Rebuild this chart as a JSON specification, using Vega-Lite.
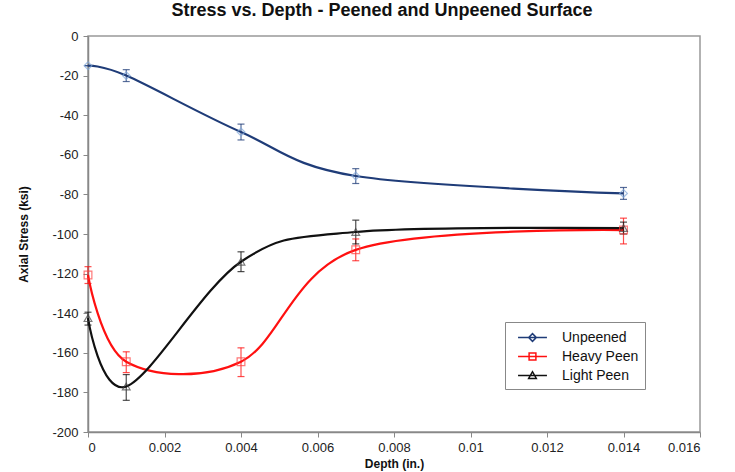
{
  "$schema": "https://vega.github.io/schema/vega-lite/v6.json",
  "autosize": {"type": "none"},
  "width": 612,
  "height": 396,
  "padding": {"left": 88, "top": 36, "right": 35, "bottom": 40},
  "background": "white",
  "title": {
    "text": "Stress vs. Depth - Peened and Unpeened Surface",
    "fontSize": 18,
    "font": "Liberation Sans",
    "fontWeight": "bold",
    "color": "#111",
    "anchor": "middle",
    "dx": -12,
    "offset": 10
  },
  "config": {
    "view": {"stroke": "#999", "strokeWidth": 1.5},
    "axis": {
      "grid": false,
      "labelOverlap": false,
      "domainColor": "#888",
      "domainWidth": 1.5,
      "tickColor": "#888",
      "tickSize": 5,
      "labelColor": "#222",
      "labelFont": "Liberation Sans",
      "labelFontSize": 13,
      "titleFont": "Liberation Sans",
      "titleFontSize": 12,
      "titleFontWeight": "bold",
      "titleColor": "#111"
    },
    "legend": {
      "labelFont": "Liberation Sans",
      "labelFontSize": 14,
      "labelColor": "#111"
    }
  },
  "data": {
    "values": [
      {"series": "Unpeened", "depth": 0, "stress": -15, "lo": -15, "hi": -15},
      {"series": "Unpeened", "depth": 0.001, "stress": -20, "lo": -23, "hi": -17},
      {"series": "Unpeened", "depth": 0.004, "stress": -48.5, "lo": -52.5, "hi": -44.5},
      {"series": "Unpeened", "depth": 0.007, "stress": -70.7, "lo": -74.5, "hi": -67},
      {"series": "Unpeened", "depth": 0.014, "stress": -79.5, "lo": -82.5, "hi": -76.5},
      {"series": "Heavy Peen", "depth": 0, "stress": -120.7, "lo": -125, "hi": -116.5},
      {"series": "Heavy Peen", "depth": 0.001, "stress": -164.5, "lo": -170, "hi": -159.5},
      {"series": "Heavy Peen", "depth": 0.004, "stress": -164.5, "lo": -172, "hi": -157.5},
      {"series": "Heavy Peen", "depth": 0.007, "stress": -108, "lo": -113.5, "hi": -102.5},
      {"series": "Heavy Peen", "depth": 0.014, "stress": -98, "lo": -105, "hi": -92},
      {"series": "Light Peen", "depth": 0, "stress": -142.5, "lo": -146, "hi": -139.5},
      {"series": "Light Peen", "depth": 0.001, "stress": -177, "lo": -184, "hi": -171},
      {"series": "Light Peen", "depth": 0.004, "stress": -114, "lo": -119, "hi": -109},
      {"series": "Light Peen", "depth": 0.007, "stress": -99, "lo": -105, "hi": -93},
      {"series": "Light Peen", "depth": 0.014, "stress": -97, "lo": -100, "hi": -94}
    ]
  },
  "encoding": {
    "x": {
      "field": "depth",
      "type": "quantitative",
      "scale": {"domain": [0, 0.016], "nice": false, "zero": false},
      "axis": {
        "title": "Depth (in.)",
        "values": [0, 0.002, 0.004, 0.006, 0.008, 0.01, 0.012, 0.014, 0.016],
        "labelExpr": "'' + datum.value",
        "titlePadding": 4,
        "labelPadding": 4
      }
    },
    "y": {
      "field": "stress",
      "type": "quantitative",
      "scale": {"domain": [-200, 0], "nice": false},
      "axis": {
        "title": "Axial Stress (ksi)",
        "tickCount": 10,
        "labelExpr": "replace(datum.label, '\u2212', '-')",
        "labelOverlap": false,
        "titlePadding": 21,
        "labelPadding": 5
      }
    }
  },
  "layer": [
    {
      "mark": {"type": "line", "interpolate": "cardinal", "strokeWidth": 2.2},
      "encoding": {
        "color": {
          "field": "series",
          "type": "nominal",
          "scale": {
            "domain": ["Unpeened", "Heavy Peen", "Light Peen"],
            "range": ["#1F3C78", "#FF1010", "#111111"]
          },
          "legend": {
            "title": null,
            "orient": "none",
            "legendX": 417,
            "legendY": 286,
            "strokeColor": "#888",
            "padding": 6,
            "symbolSize": 289,
            "symbolOffset": 12,
            "labelOffset": 20,
            "rowPadding": 2,
            "symbolFillColor": "transparent",
            "encode": {
              "symbols": {
                "update": {
                  "shape": {"signal": "datum.value == 'Unpeened' ? 'M-1.7,0H1.7M-0.45,0L0,-0.45L0.45,0L0,0.45Z' : datum.value == 'Heavy Peen' ? 'M-1.7,0H1.7M-0.4,-0.4H0.4V0.4H-0.4Z' : 'M-1.7,0H1.7M-0.45,0.35L0,-0.45L0.45,0.35Z'"},
                  "fill": {"value": "transparent"},
                  "fillOpacity": {"value": 0},
                  "strokeWidth": {"value": 1.5}
                }
              }
            }
          }
        }
      }
    },
    {
      "mark": {"type": "rule", "strokeWidth": 1.2, "opacity": 0.75},
      "encoding": {
        "y": {"field": "lo", "type": "quantitative", "title": "Axial Stress (ksi)"},
        "y2": {"field": "hi"},
        "color": {"field": "series", "type": "nominal"}
      }
    },
    {
      "mark": {"type": "tick", "orient": "horizontal", "size": 7, "thickness": 1.2, "opacity": 0.75},
      "encoding": {
        "y": {"field": "lo", "type": "quantitative", "title": "Axial Stress (ksi)"},
        "color": {"field": "series", "type": "nominal"}
      }
    },
    {
      "mark": {"type": "tick", "orient": "horizontal", "size": 7, "thickness": 1.2, "opacity": 0.75},
      "encoding": {
        "y": {"field": "hi", "type": "quantitative", "title": "Axial Stress (ksi)"},
        "color": {"field": "series", "type": "nominal"}
      }
    },
    {
      "transform": [{"filter": "datum.series == 'Unpeened'"}],
      "mark": {"type": "point", "shape": "diamond", "filled": false, "size": 60, "strokeWidth": 1.2, "stroke": "#7EA6D8"},
      "encoding": {}
    },
    {
      "transform": [{"filter": "datum.series == 'Heavy Peen'"}],
      "mark": {"type": "point", "shape": "square", "filled": false, "size": 60, "strokeWidth": 1.2, "stroke": "#FF4040"},
      "encoding": {}
    },
    {
      "transform": [{"filter": "datum.series == 'Light Peen'"}],
      "mark": {"type": "point", "shape": "triangle-up", "filled": false, "size": 60, "strokeWidth": 1.2, "stroke": "#444444"},
      "encoding": {}
    }
  ]
}
